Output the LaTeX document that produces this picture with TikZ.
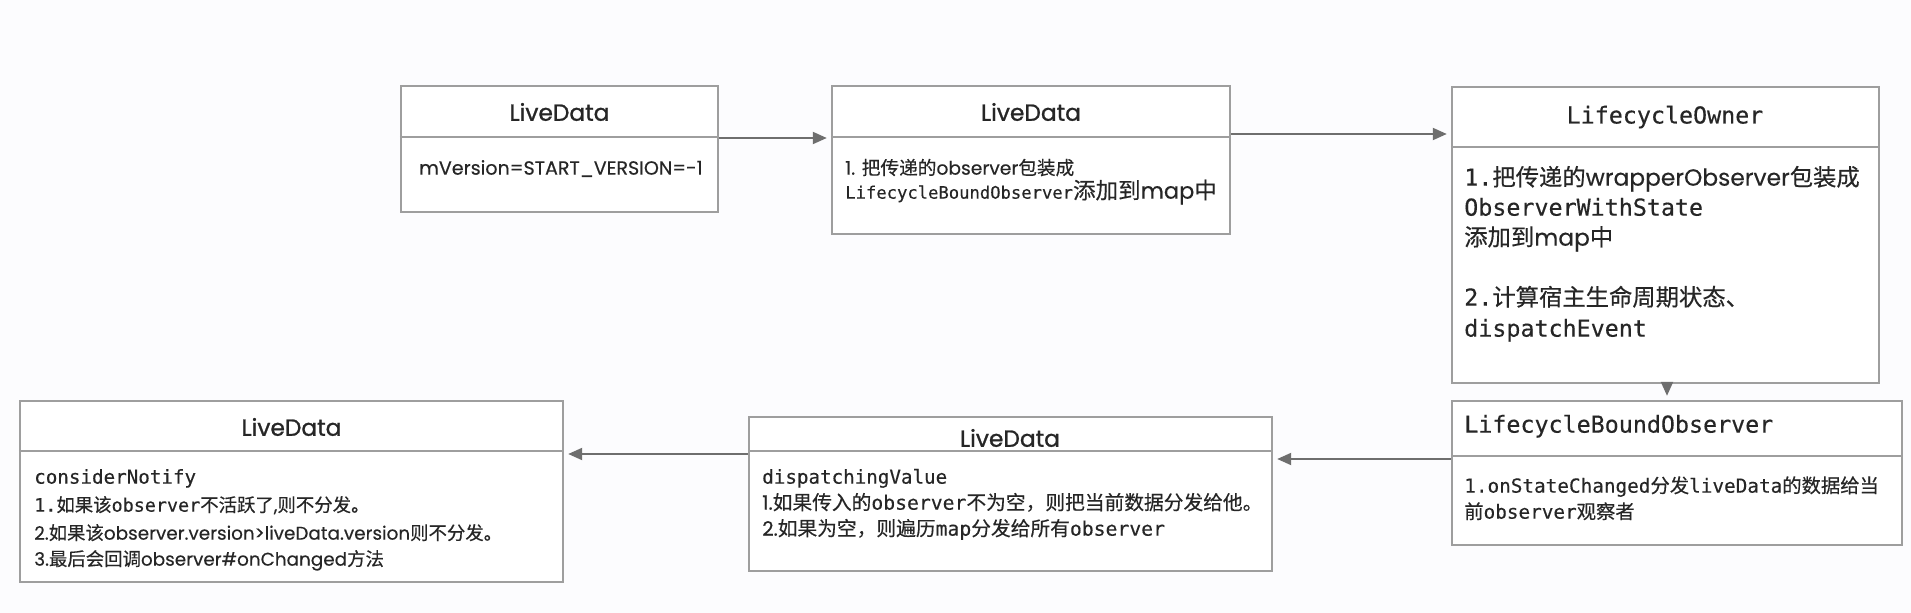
\documentclass[tikz,border=0pt]{standalone}
\usepackage{fontspec}
\setmainfont{Poppins}[FakeBold=0.3]
\setmonofont{DejaVu Sans Mono}[FakeBold=0.3]
\newfontfamily\cjk{Noto Sans CJK SC}[FakeBold=0.35]
\newfontfamily\ttl{Poppins}[FakeBold=1.0]
\usetikzlibrary{arrows.meta,fit}
\newcommand\zh[1]{{\cjk #1}}
\definecolor{boxc}{HTML}{9E9E9E}
\definecolor{linec}{HTML}{8C8C8C}
\definecolor{tipc}{HTML}{6E6E6E}
\definecolor{txtc}{HTML}{262626}
\definecolor{bgc}{HTML}{FCFCFE}
\tikzset{
  umlbox/.style={draw=boxc, line width=1.8pt, inner sep=0pt, fill=white},
  divline/.style={draw=boxc, line width=1.8pt},
  conn/.style={draw=linec, line width=1.5pt, -{Triangle[length=10.5pt,width=9pt,fill=tipc]}, shorten >=3pt, tipc},
  ttltxt/.style={inner sep=0pt, text=txtc, font=\ttl\fontsize{17.5}{20}\selectfont},
  monottl/.style={inner sep=0pt, text=txtc, font=\ttfamily\fontsize{17.5}{21}\selectfont},
  bodyA/.style={inner sep=0pt, text=txtc, anchor=mid west, font=\fontsize{14.3}{17}\selectfont},
  bodyB/.style={inner sep=0pt, text=txtc, anchor=mid west, font=\fontsize{14}{17}\selectfont},
  bodyBm/.style={inner sep=0pt, text=txtc, anchor=mid west, font=\fontsize{12.9}{16}\selectfont},
  bodyC/.style={inner sep=0pt, text=txtc, anchor=mid west, font=\fontsize{17.5}{21}\selectfont},
  bodyD/.style={inner sep=0pt, text=txtc, anchor=mid west, font=\fontsize{14.5}{17}\selectfont},
  bodyE/.style={inner sep=0pt, text=txtc, anchor=mid west, font=\fontsize{14.8}{17}\selectfont},
  bodyF/.style={inner sep=0pt, text=txtc, anchor=mid west, font=\fontsize{13.8}{17}\selectfont},
  headE/.style={inner sep=0pt, text=txtc, anchor=mid west, font=\ttfamily\fontsize{14.4}{17}\selectfont},
}
\begin{document}
\begin{tikzpicture}[x=0.75pt,y=-0.75pt]
\useasboundingbox (0,0) rectangle (1911,613);
\fill[bgc] (0,0) rectangle (1911,613);

% boxes
\node[umlbox, fit={(401,86) (718,212)}] (b1) {};
\node[umlbox, fit={(832,86) (1230,234)}] (b2) {};
\node[umlbox, fit={(1452,87) (1879,383)}] (b3) {};
\node[umlbox, fit={(1452,401) (1902,545)}] (b4) {};
\node[umlbox, fit={(749,417) (1272,571)}] (b5) {};
\node[umlbox, fit={(20,401) (563,582)}] (b6) {};

% divider levels
\coordinate (d1) at (0,137);
\coordinate (d2) at (0,137);
\coordinate (d3) at (0,147);
\coordinate (d4) at (0,456);
\coordinate (d5) at (0,451);
\coordinate (d6) at (0,451);
\draw[divline] (b1.west |- d1) -- (b1.east |- d1);
\draw[divline] (b2.west |- d2) -- (b2.east |- d2);
\draw[divline] (b3.west |- d3) -- (b3.east |- d3);
\draw[divline] (b4.west |- d4) -- (b4.east |- d4);
\draw[divline] (b5.west |- d5) -- (b5.east |- d5);
\draw[divline] (b6.west |- d6) -- (b6.east |- d6);

% connectors
\coordinate (y1) at (0,138);
\coordinate (y2) at (0,134);
\coordinate (x3) at (1667,0);
\coordinate (y4) at (0,459);
\coordinate (y5) at (0,454);
\draw[conn] (b1.east |- y1) -- (b2.west |- y1);
\draw[conn] (b2.east |- y2) -- (b3.west |- y2);
\draw[conn] (b3.south -| x3) -- (b4.north -| x3);
\draw[conn] (b4.west |- y4) -- (b5.east |- y4);
\draw[conn] (b5.west |- y5) -- (b6.east |- y5);

% box 1
\node[ttltxt] (h1) at (559.5,112) {LiveData};
\node[bodyA] (t1a) at (419,171) {mVersion=START\_VERSION=-1};

% box 2
\node[ttltxt] (h2) at (1031,112) {LiveData};
\node[bodyB] (t2a) at (845,171) {1. \zh{把传递的}observer\zh{包装成}};
\node[bodyBm] (t2b) at (845,195) {{\ttfamily LifecycleBoundObserver}{\fontsize{16.9}{18}\selectfont\zh{添加到}map\zh{中}}};

% box 3
\node[monottl] (h3) at (1665,117) {LifecycleOwner};
\node[bodyC] (t3a) at (1464,182) {{\ttfamily 1.}\zh{把传递的}wrapperObserver\zh{包装成}};
\node[bodyC] (t3b) at (1464,212) {\ttfamily ObserverWithState};
\node[bodyC] (t3c) at (1464,242) {\zh{添加到}map\zh{中}};
\node[bodyC] (t3d) at (1464,302) {{\ttfamily 2.}\zh{计算宿主生命周期状态、}};
\node[bodyC] (t3e) at (1464,333) {\ttfamily dispatchEvent};

% box 4
\node[monottl, anchor=mid west] (h4) at (1464,429) {LifecycleBoundObserver};
\node[bodyD] (t4a) at (1464,489) {{\ttfamily 1.onStateChanged}\zh{分发}{\ttfamily liveData}\zh{的数据给当}};
\node[bodyD] (t4b) at (1464,515) {\zh{前}{\ttfamily observer}\zh{观察者}};

% box 5
\node[ttltxt] (h5) at (1010,438) {LiveData};
\node[headE] (t5a) at (762,480) {dispatchingValue};
\node[bodyE] (t5b) at (762,506) {1.\zh{如果传入的}{\ttfamily observer}\zh{不为空，则把当前数据分发给他。}};
\node[bodyE] (t5c) at (762,532) {2.\zh{如果为空，则遍历}{\ttfamily map}\zh{分发给所有}{\ttfamily observer}};

% box 6
\node[ttltxt] (h6) at (291.5,427) {LiveData};
\node[headE] (t6a) at (34,480) {considerNotify};
\node[bodyF] (t6b) at (34,508) {{\ttfamily 1.}\zh{如果该}{\ttfamily observer}\zh{不活跃了},\zh{则不分发。}};
\node[bodyF] (t6c) at (34,536) {2.\zh{如果该}observer.version>liveData.version\zh{则不分发。}};
\node[bodyF] (t6d) at (34,562) {3.\zh{最后会回调}observer\#onChanged\zh{方法}};
\end{tikzpicture}
\end{document}
